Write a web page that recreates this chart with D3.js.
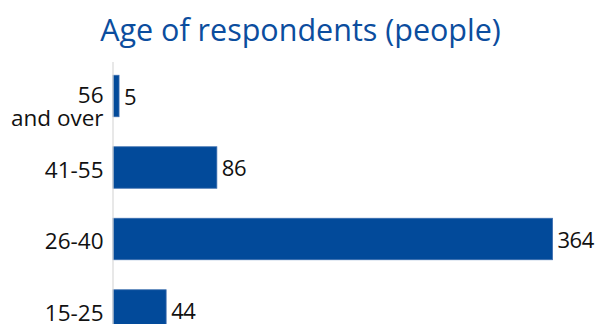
<!DOCTYPE html>
<html>
<head>
<meta charset="utf-8">
<script src="https://cdn.jsdelivr.net/npm/d3@7"></script>
<style>
  html, body { margin: 0; padding: 0; background: #fff; }
  svg { display: block; }
  text { font-family: "Open Sans", "Noto Sans", sans-serif; }
</style>
</head>
<body>
<svg id="chart" width="595" height="324"></svg>
<script>
// Respondents by age group (top to bottom)
const categories = ["56 and over", "41-55", "26-40", "15-25"];
const categoryLines = [["56", "and over"], ["41-55"], ["26-40"], ["15-25"]];
const values = [5, 86, 364, 44];
const title = "Age of respondents (people)";

const W = 595, H = 324;
const svg = d3.select("#chart");

const x = d3.scaleLinear().domain([0, 364]).range([113, 552.5]);
const y = d3.scaleBand().domain(categories).range([60.25, 346.25])
  .paddingInner(0.42).paddingOuter(0.21);

// Title
svg.append("text")
  .attr("x", 300.5).attr("y", 40.5)
  .attr("text-anchor", "middle")
  .attr("fill", "#0b4d9e")
  .attr("font-size", 30.5)
  .text(title);

// Bars
svg.append("g").selectAll("rect")
  .data(values)
  .join("rect")
  .attr("x", x(0))
  .attr("y", (d, i) => y(categories[i]))
  .attr("width", d => x(d) - x(0))
  .attr("height", y.bandwidth())
  .attr("fill", "#024a9a")
  .attr("stroke", "#3a6cae")
  .attr("stroke-width", 0.8);

// Vertical category axis
const axis = d3.axisLeft(y).tickSize(0).tickFormat("");
const gAxis = svg.append("g").attr("transform", `translate(${x(0)},0)`).call(axis);
gAxis.select(".domain").attr("stroke", "#d9d9d9").attr("stroke-width", 1.2)
  .attr("d", `M0,62V${H}`);

// Category labels
const lab = svg.append("g");
categories.forEach((c, i) => {
  const lines = categoryLines[i];
  const cy = y(c) + y.bandwidth() / 2;
  const t = lab.append("text")
    .attr("text-anchor", "end")
    .attr("font-size", 22.5)
    .attr("fill", "#111");
  if (lines.length === 1) {
    t.append("tspan").attr("x", 103.5).attr("y", cy + 10).text(lines[0]);
  } else {
    t.append("tspan").attr("x", 103.5).attr("y", cy + 6.5).text(lines[0]);
    t.append("tspan").attr("x", 103.5).attr("y", cy + 29.5).text(lines[1]);
  }
});

// Value labels
svg.append("g").selectAll("text")
  .data(values)
  .join("text")
  .attr("x", d => x(d) + 5)
  .attr("y", (d, i) => y(categories[i]) + y.bandwidth() / 2 + 8.5)
  .attr("font-size", 22)
  .attr("letter-spacing", -0.5)
  .attr("fill", "#111")
  .text(d => d);
</script>
</body>
</html>
